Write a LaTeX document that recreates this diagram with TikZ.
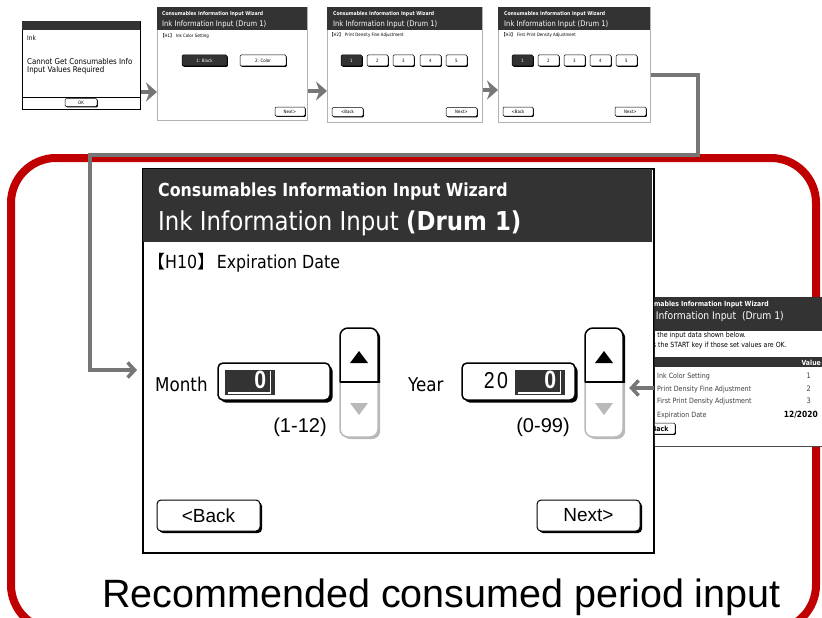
\documentclass[tikz,border=0pt]{standalone}
\usepackage{fontspec}
\newfontfamily\scr[FakeStretch=0.88]{DejaVu Sans}
\newfontfamily\arl{Liberation Sans}
\newfontfamily\nar[FakeStretch=0.85]{Liberation Sans}
\newfontfamily\cjk{Noto Sans CJK JP}
\usetikzlibrary{arrows.meta,shadows}
\definecolor{hdr}{HTML}{333333}
\definecolor{conng}{HTML}{767676}
\definecolor{redb}{HTML}{C00000}
\newcommand\myfs[1]{\fontsize{#1}{#1}\selectfont}
\newcommand\lbk{{\cjk【}}
\newcommand\rbk{{\cjk】}}
\tikzset{
 scrn/.style={draw=gray!60, line width=0.8, fill=white, inner sep=0, anchor=north west},
 txt/.style={inner sep=0, anchor=base west},
 wtxt/.style={txt, text=white},
 sbtn/.style={draw=black, fill=white, line width=0.5, rounded corners=1.2, inner sep=0, font=\scr\myfs{4.5},
   drop shadow={shadow xshift=0.9pt, shadow yshift=-0.9pt, fill=black, opacity=1}},
 sbtnd/.style={sbtn, fill=hdr, text=white},
 mbtn/.style={draw=black, fill=white, line width=1, rounded corners=4, inner sep=0, minimum width=103, minimum height=31,
   font=\arl\myfs{19}, drop shadow={shadow xshift=2pt, shadow yshift=-2pt, fill=black, opacity=1}},
 field/.style={draw=black, fill=white, line width=1.5, rounded corners=5, inner sep=0, minimum height=37,
   drop shadow={shadow xshift=2.5pt, shadow yshift=-2.5pt, fill=black, opacity=1}},
 valbox/.style={fill=hdr, inner sep=0, minimum width=50, minimum height=25},
 toparr/.style={draw=conng, line width=4.5, -{Stealth[length=11pt, width=19pt, inset=3.5pt]}},
 conn/.style={draw=conng, line width=3.5, -{Straight Barb[length=7pt, width=15pt]}},
}
\begin{document}
\begin{tikzpicture}[x=1pt,y=-1pt]
\useasboundingbox (0,0) rectangle (822,618);
\clip (0,0) rectangle (822,618);
% red frame
\draw[redb, line width=8, rounded corners=45] (11,158) rectangle (816,630);

% ---- Screen 1 (dialog)
\node[scrn, draw=black, minimum width=118, minimum height=88] (s1) at (22,21) {};
\fill[hdr] (22,21) rectangle (140,30);
\node[txt, font=\scr\myfs{6.5}] (s1t1) at (27,41) {Ink};
\node[txt, font=\scr\myfs{8}] (s1t2) at (27,64) {Cannot Get Consumables Info};
\node[txt, font=\scr\myfs{8}] (s1t3) at (27,72.5) {Input Values Required};
\draw[line width=0.6] (22,97) -- (140,97);
\node[sbtn, minimum width=32, minimum height=8] (s1ok) at (81,102.5) {OK};

% ---- Screen 2
\node[scrn, minimum width=150, minimum height=113] (s2) at (157,7) {};
\fill[hdr] (157,7) rectangle (307,30);
\node[wtxt, font=\scr\bfseries\myfs{5.2}] (s2h1) at (162,16) {Consumables Information Input Wizard};
\node[wtxt, font=\scr\myfs{7.7}] (s2h2) at (162,26.5) {Ink Information Input (Drum 1)};
\node[txt, font=\scr\myfs{4.5}] (s2l) at (160,38) {\lbk H1\rbk\ Ink Color Setting};
\node[sbtnd, minimum width=45, minimum height=11] (s2b1) at (204.5,60.5) {1: Black};
\node[sbtn, minimum width=46, minimum height=11] (s2b2) at (263,60.5) {2: Color};
\node[sbtn, minimum width=30, minimum height=9] (s2n) at (290,111.5) {Next>};

% ---- Screen 3
\node[scrn, minimum width=155, minimum height=115] (s3) at (327,7) {};
\fill[hdr] (327,7) rectangle (482,30);
\node[wtxt, font=\scr\bfseries\myfs{5.2}] (s3h1) at (333,16) {Consumables Information Input Wizard};
\node[wtxt, font=\scr\myfs{7.7}] (s3h2) at (333,26.5) {Ink Information Input (Drum 1)};
\node[txt, font=\scr\myfs{4.5}] (s3l) at (329,37) {\lbk H2\rbk\ Print Density Fine Adjustment};
\node[sbtnd, minimum width=21, minimum height=11] (s3k1) at (351.5,60.5) {1};
\foreach \i/\x in {2/377.5,3/403.5,4/430.5,5/456.5}
  \node[sbtn, minimum width=21, minimum height=11] (s3k\i) at (\x,60.5) {\i};
\node[sbtn, minimum width=31, minimum height=9] (s3bk) at (347.5,112) {<Back};
\node[sbtn, minimum width=31, minimum height=9] (s3n) at (461.5,112) {Next>};

% ---- Screen 4
\node[scrn, minimum width=152, minimum height=115] (s4) at (498,7) {};
\fill[hdr] (498,7) rectangle (650,30);
\node[wtxt, font=\scr\bfseries\myfs{5.2}] (s4h1) at (504,16) {Consumables Information Input Wizard};
\node[wtxt, font=\scr\myfs{7.7}] (s4h2) at (504,26.5) {Ink Information Input (Drum 1)};
\node[txt, font=\scr\myfs{4.5}] (s4l) at (501,37) {\lbk H3\rbk\ First Print Density Adjustment};
\node[sbtnd, minimum width=21, minimum height=11] (s4k1) at (522.5,60.5) {1};
\foreach \i/\x in {2/548.5,3/574.5,4/600.5,5/626.5}
  \node[sbtn, minimum width=21, minimum height=11] (s4k\i) at (\x,60.5) {\i};
\node[sbtn, minimum width=30, minimum height=9] (s4bk) at (518,111.5) {<Back};
\node[sbtn, minimum width=31, minimum height=9] (s4n) at (630.5,111.5) {Next>};

% ---- Main screen
\node[draw=black, line width=1.8, fill=white, minimum width=511, minimum height=384, anchor=north west, inner sep=0] (main) at (142,168) {};
\fill[hdr] (142.9,168.9) rectangle (652.1,242);
\node[wtxt, font=\scr\bfseries\myfs{18}] (mh1) at (158,196) {Consumables Information Input Wizard};
\node[wtxt, font=\scr\myfs{26}] (mh2) at (158,230) {Ink Information Input \textbf{(Drum 1)}};
\node[txt, font=\scr\myfs{18}] (h10) at (156,268) {\hspace*{-9pt}\lbk H10\rbk\hspace{-3.5pt} Expiration Date};

\node[txt, font=\scr\myfs{19}] (mlab) at (155,391) {Month};
\node[field, minimum width=112] (mfield) at (274,381.5) {};
\node[valbox] (mval) at (250,382.5) {};
\draw[white, line width=1.2] (228,393) -- (270.5,393) -- (270.5,371);
\node[inner sep=0, anchor=base east, text=white, font=\nar\bfseries\myfs{25}] (mnum) at (266.5,388.5) {0};

\node[txt, font=\scr\myfs{19}] (ylab) at (408,391) {Year};
\node[field, minimum width=113] (yfield) at (518.5,381.5) {};
\node[valbox] (yval) at (540,382.5) {};
\draw[white, line width=1.2] (518,393) -- (560.5,393) -- (560.5,371);
\node[inner sep=0, anchor=base east, text=white, font=\nar\bfseries\myfs{25}] (ynum) at (556.5,388.5) {0};
\node[inner sep=0, anchor=base, font=\nar\myfs{23}] (y20) at (496,388) {2\hspace{2.5pt}0};

\node[inner sep=0, minimum width=38, minimum height=109] (mspin) at (359,382.5) {};
\node[inner sep=0, minimum width=38, minimum height=109] (yspin) at (604,382.5) {};
\foreach \a/\b in {340/378,585/623}{
 \begin{scope}
  \clip (\a-6,320) rectangle (\b+6,382);
  \fill[black, rounded corners=8] (\a+2.2,330) rectangle (\b+2.2,439);
  \draw[black, fill=white, line width=1.5, rounded corners=8] (\a,328) rectangle (\b,437);
 \end{scope}
 \begin{scope}
  \clip (\a-6,382) rectangle (\b+6,445);
  \fill[gray!55, rounded corners=8] (\a+2.2,330) rectangle (\b+2.2,439);
  \draw[gray!55, fill=white, line width=1.5, rounded corners=8] (\a,328) rectangle (\b,437);
 \end{scope}
 \draw[line width=2.6] (\a,382) -- (\b+2,382);
 \fill ({\a+10},363) -- ({\b-10},363) -- ({(\a+\b)/2},351) -- cycle;
 \fill[gray!55] ({\a+10},403) -- ({\b-10},403) -- ({(\a+\b)/2},415) -- cycle;
}
\node[inner sep=0, anchor=base, font=\arl\myfs{20}] (mrng) at (300,432) {(1-12)};
\node[inner sep=0, anchor=base, font=\arl\myfs{20}] (yrng) at (543,432) {(0-99)};

\node[mbtn] (back) at (208.5,515.5) {<Back};
\node[mbtn] (next) at (588.5,515.5) {Next>};

% ---- Side (confirmation) screen, partly hidden
\begin{scope}
\clip (654.9,290) rectangle (822,450);
\node[fill=white, inner sep=0, anchor=north west, minimum width=180, minimum height=149] (side) at (654,297) {};
\fill[hdr] (640,297) rectangle (830,331);
\node[wtxt, anchor=base east, font=\scr\bfseries\myfs{7}] (sh1) at (769,306) {Consumables Information Input Wizard};
\node[wtxt, anchor=base east, font=\scr\myfs{10.5}] (sh2) at (784,319) {Ink Information Input\ \ (Drum 1)};
\node[txt, anchor=base east, font=\scr\myfs{7.1}] (st1) at (746,337.5) {Confirm the input data shown below.};
\node[txt, anchor=base east, font=\scr\myfs{7.1}] (st2) at (787,347) {Press the START key if those set values are OK.};
\fill[hdr] (640,357) rectangle (830,367);
\node[wtxt, anchor=base east, font=\scr\bfseries\myfs{7}] (sval) at (821,365) {Value};
\node[txt, font=\scr\myfs{7.2}, text=black!75] (r1l) at (657,378) {Ink Color Setting};
\node[txt, font=\scr\myfs{7.2}, text=black!75] (r2l) at (657,391) {Print Density Fine Adjustment};
\node[txt, font=\scr\myfs{7.2}, text=black!75] (r3l) at (657,403) {First Print Density Adjustment};
\node[txt, font=\scr\myfs{7.2}, text=black!75] (r4l) at (657,417) {Expiration Date};
\node[txt, anchor=base east, font=\scr\myfs{7.5}, text=black!75] (r1v) at (811,378) {1};
\node[txt, anchor=base east, font=\scr\myfs{7.5}, text=black!75] (r2v) at (811,391) {2};
\node[txt, anchor=base east, font=\scr\myfs{7.5}, text=black!75] (r3v) at (811,403) {3};
\node[txt, anchor=base east, font=\scr\bfseries\myfs{8.5}] (r4v) at (818,417) {12/2020};
\node[sbtn, minimum width=35, minimum height=11, font=\scr\bfseries\myfs{7}] (sback) at (657.5,428.5) {<Back};
\draw[black!70, line width=0.8] (640,446) -- (830,446);
\end{scope}

% caption
\node[inner sep=0, anchor=base, font=\arl\myfs{39.5}] (cap) at (441.5,607) {Recommended consumed period input};

% ---- connectors
\coordinate (r1) at (0,92);
\coordinate (r2) at (0,91);
\coordinate (r3) at (0,90);
\draw[toparr] (s1.east |- r1) -- (s2.west |- r1);
\draw[toparr] (s2.east |- r2) -- (s3.west |- r2);
\draw[toparr] (s3.east |- r3) -- (s4.west |- r3);
\coordinate (k0) at (0,75);
\coordinate (k1) at (698,155);
\coordinate (k2) at (90,370);
\coordinate (k3) at (0,388);
\draw[conn, shorten >=5pt] (s4.east |- k0) -| (k1) -| (k2) -- (main.west |- k2);
\draw[conn, shorten >=6pt] (side.west |- k3) -- (yspin.east |- k3);
\end{tikzpicture}
\end{document}
